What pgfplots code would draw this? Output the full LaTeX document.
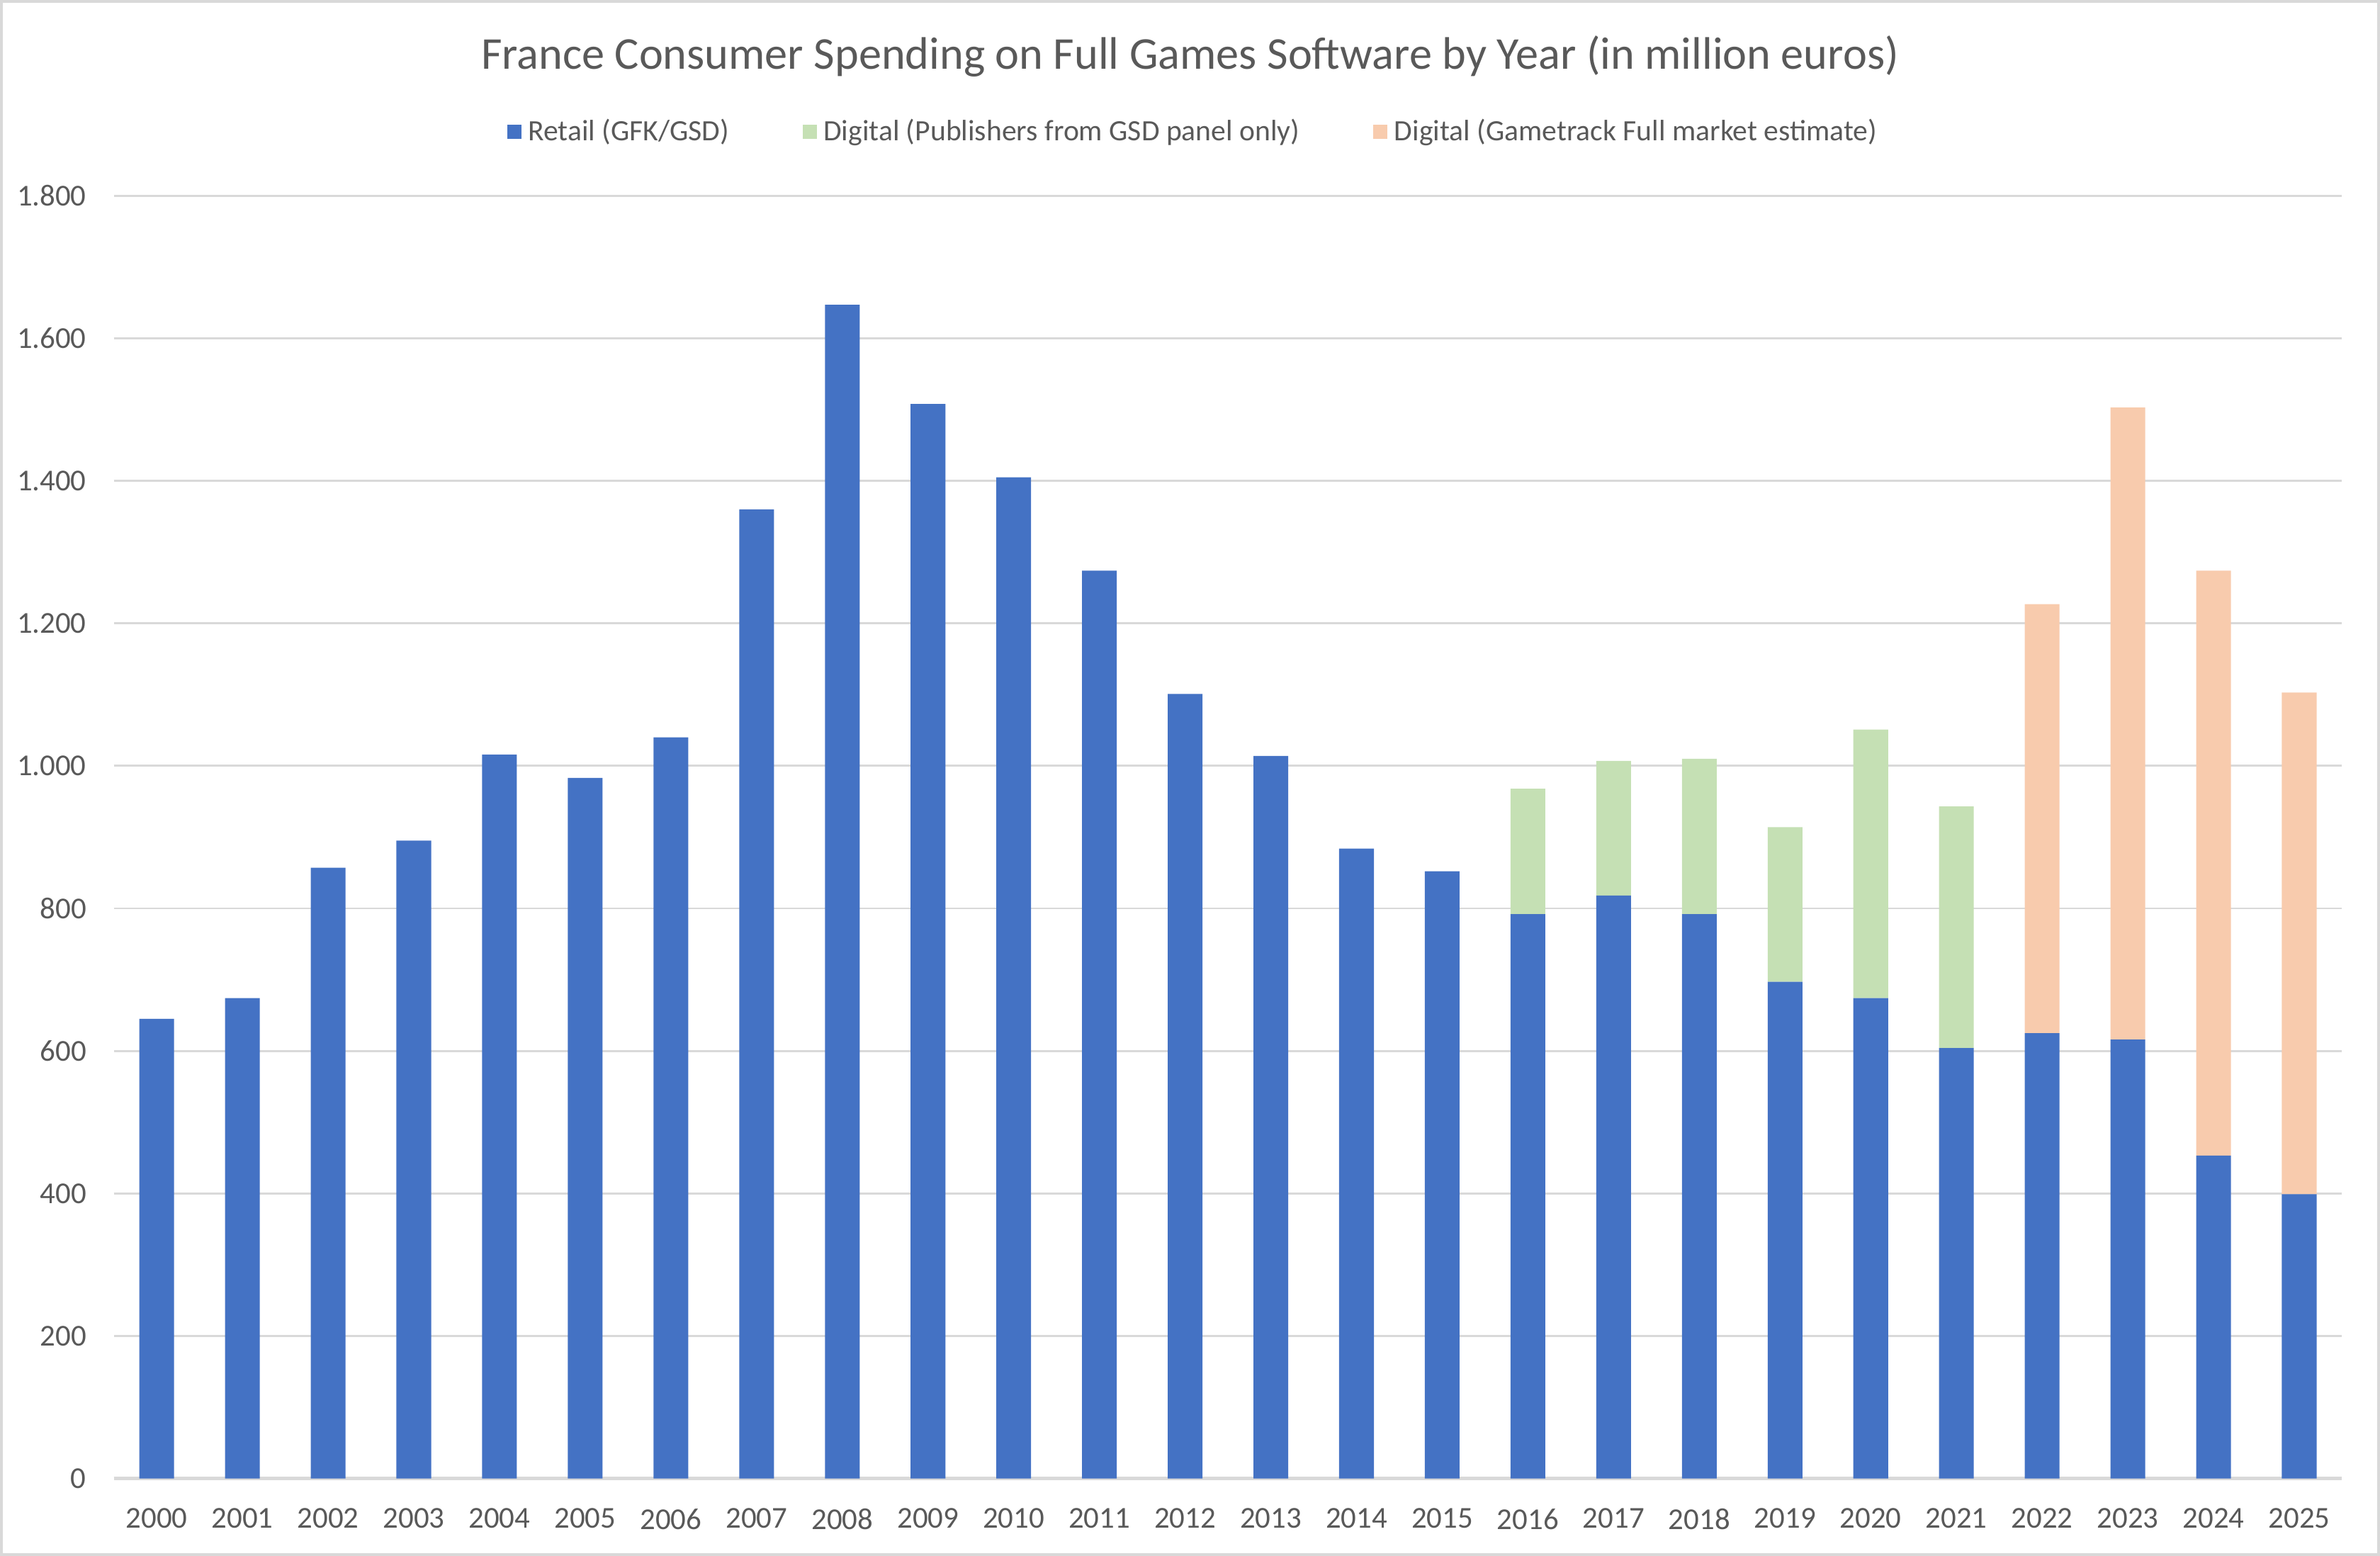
\documentclass[border=0pt]{standalone}
\usepackage{pgfplots}
\pgfplotsset{compat=1.18}
\usepackage{fontspec}
\setmainfont{Carlito}
\definecolor{retail}{HTML}{4472C4}
\definecolor{dgsd}{HTML}{C5E0B4}
\definecolor{dgt}{HTML}{F8CBAD}
\definecolor{txt}{HTML}{595959}
\definecolor{gridc}{HTML}{D9D9D9}
\begin{document}
\begin{tikzpicture}
\draw[gridc, line width=0.8pt] (0.4pt,0.4pt) rectangle (705.2pt,460.85pt);
\node[font=\fontsize{13.5}{16}\selectfont, text=txt] at (352.8pt,444.6pt) {France Consumer Spending on Full Games Software by Year (in million euros)};
\begin{axis}[
  at={(33.75pt,22.95pt)}, anchor=south west,
  scale only axis, width=660.6pt, height=380.25pt,
  ybar stacked, bar width=10.3pt,
  xmin=-0.5, xmax=25.5, ymin=0, ymax=1800,
  ytick={0,200,...,1800},
  xtick={0,...,25},
  xticklabels={2000,2001,2002,2003,2004,2005,2006,2007,2008,2009,2010,2011,2012,2013,2014,2015,2016,2017,2018,2019,2020,2021,2022,2023,2024,2025},
  axis x line*=bottom, axis y line*=left,
  x axis line style={gridc, line width=1.2pt, -},
  y axis line style={draw=none},
  major tick length=0pt,
  ymajorgrids, grid style={gridc, line width=0.6pt},
  /pgf/number format/.cd, 1000 sep={.}, assume math mode=true, /pgfplots/.cd,
  tick label style={font=\fontsize{9}{11}\selectfont, text=txt},
  xticklabel style={yshift=-5.4pt},
  yticklabel style={xshift=-4.65pt},
  legend columns=3,
  legend style={at={(0.4854,1.0497)}, anchor=center, draw=none, fill=none,
    font=\fontsize{8.75}{11}\selectfont, text=txt,
    /tikz/every even column/.append style={column sep=19.8pt}},
  legend cell align=left,
  sq/.style={draw=none, legend image code/.code={\fill[##1] (0pt,-2.1pt) rectangle (4.2pt,2.1pt);}},
]
\addplot[sq, fill=retail] coordinates {
(0,645) (1,674) (2,857) (3,895) (4,1016) (5,983) (6,1040) (7,1360) (8,1647) (9,1508)
(10,1405) (11,1274) (12,1101) (13,1014) (14,884) (15,852) (16,792) (17,818) (18,792) (19,697)
(20,674) (21,604) (22,625) (23,616) (24,453) (25,399)};
\addlegendentry{Retail (GFK/GSD)}
\addplot[sq, fill=dgsd] coordinates {
(0,0) (1,0) (2,0) (3,0) (4,0) (5,0) (6,0) (7,0) (8,0) (9,0)
(10,0) (11,0) (12,0) (13,0) (14,0) (15,0) (16,176) (17,189) (18,218) (19,217)
(20,377) (21,339) (22,0) (23,0) (24,0) (25,0)};
\addlegendentry{Digital (Publishers from GSD panel only)}
\addplot[sq, fill=dgt] coordinates {
(0,0) (1,0) (2,0) (3,0) (4,0) (5,0) (6,0) (7,0) (8,0) (9,0)
(10,0) (11,0) (12,0) (13,0) (14,0) (15,0) (16,0) (17,0) (18,0) (19,0)
(20,0) (21,0) (22,602) (23,887) (24,821) (25,704)};
\addlegendentry{Digital (Gametrack Full market estimate)}
\end{axis}
\end{tikzpicture}
\end{document}
